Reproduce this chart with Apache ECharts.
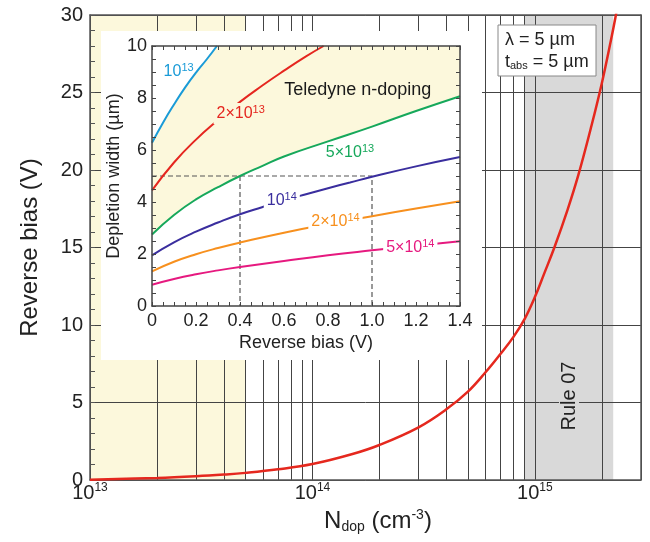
<!DOCTYPE html>
<html>
<head>
<meta charset="utf-8">
<script src="https://cdn.jsdelivr.net/npm/echarts@6/dist/echarts.min.js"></script>
<style>
  html, body { margin: 0; padding: 0; background: #fff; }
  #chart { width: 650px; height: 542px; }
</style>
</head>
<body>
<div id="chart"></div>
<script>
// main plot: reverse bias needed vs doping
var nDop = [1e13, 2e13, 3e13, 4e13, 5e13, 7e13, 1e14, 1.5e14, 2e14, 3e14, 4e14, 5e14, 6e14, 7e14, 8e14, 9e14, 1e15, 1.1e15, 1.22e15, 1.4e15, 1.57e15, 1.8e15, 2e15, 2.2e15, 2.3e15, 2.4e15];
var reverseBias = [0.02, 0.13, 0.24, 0.35, 0.46, 0.69, 1.03, 1.66, 2.26, 3.4, 4.56, 5.7, 6.95, 8.13, 9.22, 10.4, 11.8, 13.3, 14.95, 17.4, 19.7, 22.9, 25.6, 28.4, 29.8, 31.3];
var minorGrid = [2e13, 3e13, 4e13, 5e13, 6e13, 7e13, 8e13, 9e13, 2e14, 3e14, 4e14, 5e14, 6e14, 7e14, 8e14, 9e14, 2e15];
var tdBand = [1e13, 5e13];      // Teledyne n-doping
var ruleBand = [9e14, 2.25e15]; // Rule 07

// inset: depletion width vs reverse bias
var biasBlue = [0, 0.05, 0.1, 0.15, 0.2, 0.25, 0.295];
var wBlue = [6.28, 7.05, 7.75, 8.4, 8.98, 9.5, 10];
var biasRed = [0, 0.1, 0.2, 0.3, 0.4, 0.5, 0.6, 0.7, 0.78];
var wRed = [4.45, 5.52, 6.4, 7.15, 7.85, 8.47, 9.05, 9.6, 10];
var biasGreen = [0, 0.1, 0.2, 0.3, 0.4, 0.5, 0.6, 0.8, 1.0, 1.2, 1.4];
var wGreen = [2.75, 3.5, 4.1, 4.57, 5.0, 5.38, 5.75, 6.33, 6.9, 7.5, 8.07];
var biasPurple = [0, 0.1, 0.2, 0.3, 0.4, 0.5, 0.6, 0.7, 0.8, 0.9, 1.0, 1.2, 1.4];
var wPurple = [1.95, 2.45, 2.86, 3.21, 3.53, 3.8, 4.06, 4.3, 4.53, 4.75, 4.97, 5.37, 5.73];
var biasOrange = [0, 0.1, 0.2, 0.3, 0.4, 0.6, 0.8, 1.0, 1.2, 1.4];
var wOrange = [1.33, 1.7, 1.99, 2.23, 2.44, 2.82, 3.15, 3.45, 3.75, 4.03];
var biasPink = [0, 0.1, 0.2, 0.3, 0.4, 0.6, 0.8, 1.0, 1.2, 1.4];
var wPink = [0.82, 1.04, 1.22, 1.37, 1.5, 1.73, 1.95, 2.14, 2.32, 2.49];
var guideA = [[0, 5], [1.0, 5], [1.0, 0]];
var guideB = [[0.4, 5], [0.4, 0]];

var labelText = ['10{s|13}', '2×10{s|13}', '5×10{s|13}', '10{s|14}', '2×10{s|14}', '5×10{s|14}', 'Teledyne n-doping'];
var labelBias = [0.121, 0.403, 0.9, 0.59, 0.834, 1.174, 0.935];
var labelWidth = [9.02, 7.4, 5.89, 4.05, 3.24, 2.23, 8.3];

var FONT = '"Liberation Sans", Arial, sans-serif';
var colors = ['#1a9bd7', '#e5261f', '#16a85b', '#3a2e9e', '#f7901e', '#e6197f', '#1a1a1a'];
var labelBg = [null, '#fcf8dc', null, '#fff', '#fff', '#fff', null];
var yellow = '#fcf8dc';
var grey = '#d9d9d9';

function pairs(xs, ys) {
  return xs.map(function (x, i) { return [x, ys[i]]; });
}

function expLabel(v) {
  return '{b|10}{s|' + Math.round(Math.log10(v)) + '}';
}

var myChart = echarts.init(document.getElementById('chart'));

function insetLine(xs, ys, c) {
  return {
    type: 'line', xAxisIndex: 2, yAxisIndex: 2, zlevel: 1, z: 3,
    data: pairs(xs, ys), smooth: true, showSymbol: false, silent: true,
    lineStyle: { color: c, width: 2 }
  };
}

function guide(d) {
  return {
    type: 'line', xAxisIndex: 2, yAxisIndex: 2, zlevel: 1, z: 2,
    data: d, showSymbol: false, silent: true,
    lineStyle: { color: '#555', width: 1.2, type: [5, 3] }
  };
}

var insetTicks = { show: true, inside: true, length: 4, lineStyle: { color: '#444' } };
var insetMinor = { show: true, splitNumber: 4, length: 4, lineStyle: { color: '#444' } };
var insetLineStyle = { show: true, onZero: false, lineStyle: { color: '#444', width: 1.5 } };

myChart.setOption({
  animation: false,
  textStyle: { fontFamily: FONT },
  grid: [
    { left: 90, top: 15, width: 551, height: 465, outerBoundsMode: 'none' },
    { left: 152, top: 46, width: 308, height: 260, outerBoundsMode: 'none' }
  ],
  xAxis: [
    {
      type: 'log', logBase: 10, gridIndex: 0, min: 1e13, max: 3e15, position: 'bottom', z: 2,
      axisLine: { show: true, onZero: false, lineStyle: { color: '#555', width: 1.5 } },
      axisTick: { show: false },
      splitLine: { show: true, lineStyle: { color: '#444', width: 1 } },
      axisLabel: {
        margin: 2, showMaxLabel: false, formatter: expLabel,
        rich: {
          b: { fontSize: 20, color: '#222', fontFamily: FONT, lineHeight: 22 },
          s: { fontSize: 12, color: '#222', fontFamily: FONT, lineHeight: 12, verticalAlign: 'top' }
        }
      },
      name: '{b|N}{sub|dop}{b| (cm}{sup|-3}{b|)}',
      nameLocation: 'middle', nameGap: 17,
      nameTextStyle: {
        padding: [0, 0, 0, 25],
        rich: {
          b: { fontSize: 24, color: '#222', fontFamily: FONT, lineHeight: 26 },
          sub: { fontSize: 14, color: '#222', fontFamily: FONT, lineHeight: 14, verticalAlign: 'bottom' },
          sup: { fontSize: 14, color: '#222', fontFamily: FONT, lineHeight: 14, verticalAlign: 'top' }
        }
      }
    },
    {
      type: 'log', logBase: 10, gridIndex: 0, min: 1e13, max: 3e15, position: 'top', z: 2,
      axisLine: { show: true, onZero: false, lineStyle: { color: '#555', width: 1.5 } },
      axisTick: { show: false }, axisLabel: { show: false }, splitLine: { show: false }
    },
    {
      type: 'value', gridIndex: 1, min: 0, max: 1.4, interval: 0.2, position: 'bottom', zlevel: 1, z: 5,
      axisLine: insetLineStyle, axisTick: insetTicks, minorTick: insetMinor,
      splitLine: { show: false },
      axisLabel: {
        fontSize: 18, color: '#222', margin: 6,
        formatter: function (v) { return v === 0 ? '0' : v.toFixed(1); }
      },
      name: 'Reverse bias (V)', nameLocation: 'middle', nameGap: 28,
      nameTextStyle: { fontSize: 18, color: '#222' }
    },
    {
      type: 'value', gridIndex: 1, min: 0, max: 1.4, interval: 0.2, position: 'top', zlevel: 1, z: 5,
      axisLine: insetLineStyle, axisTick: insetTicks, minorTick: insetMinor,
      axisLabel: { show: false }, splitLine: { show: false }
    }
  ],
  yAxis: [
    {
      type: 'value', gridIndex: 0, min: 0, max: 30, interval: 5, position: 'left', z: 2,
      axisLine: { show: true, onZero: false, lineStyle: { color: '#555', width: 1.5 } },
      axisTick: { show: true, inside: true, length: 5, lineStyle: { color: '#555' } },
      minorTick: { show: true, splitNumber: 5, length: 5, lineStyle: { color: '#555' } },
      splitLine: { show: true, lineStyle: { color: '#444', width: 1 } },
      axisLabel: { fontSize: 20, color: '#222', margin: 7 },
      name: 'Reverse bias (V)', nameLocation: 'middle', nameGap: 48,
      nameTextStyle: { fontSize: 24, color: '#222' }
    },
    {
      type: 'value', gridIndex: 0, min: 0, max: 30, position: 'right', z: 2,
      axisLine: { show: true, onZero: false, lineStyle: { color: '#555', width: 1.5 } },
      axisTick: { show: false }, axisLabel: { show: false }, splitLine: { show: false }
    },
    {
      type: 'value', gridIndex: 1, min: 0, max: 10, interval: 2, position: 'left', zlevel: 1, z: 5,
      axisLine: insetLineStyle, axisTick: insetTicks, minorTick: insetMinor,
      splitLine: { show: false },
      axisLabel: { fontSize: 18, color: '#222', margin: 5 },
      name: 'Depletion width (µm)', nameLocation: 'middle', nameGap: 17,
      nameTextStyle: { fontSize: 18, color: '#222' }
    },
    {
      type: 'value', gridIndex: 1, min: 0, max: 10, interval: 2, position: 'right', zlevel: 1, z: 5,
      axisLine: insetLineStyle, axisTick: insetTicks, minorTick: insetMinor,
      axisLabel: { show: false }, splitLine: { show: false }
    }
  ],
  graphic: [
    // white backing of the inset
    { type: 'rect', zlevel: 1, z: 0, silent: true,
      shape: { x: 101, y: 31, width: 381, height: 329 }, style: { fill: '#fff' } },
    { type: 'rect', z: 10, silent: true,
      shape: { x: 498, y: 25, width: 98, height: 51 }, style: { fill: '#fff', stroke: '#888', lineWidth: 1 } },
    { type: 'text', z: 11, x: 505, y: 31, silent: true,
      style: { text: 'λ = 5 µm', font: '18px ' + FONT, fill: '#222' } },
    { type: 'text', z: 11, x: 505, y: 53, silent: true,
      style: {
        text: 't{s|abs} = 5 µm', font: '18px ' + FONT, fill: '#222',
        rich: { s: { fontSize: 11, fontFamily: FONT, verticalAlign: 'bottom', lineHeight: 11 } }
      } },
    { type: 'text', z: 11, x: 569, y: 396, rotation: Math.PI / 2, silent: true,
      style: {
        text: 'Rule 07', font: '20px ' + FONT, fill: '#222', align: 'center', verticalAlign: 'middle',
        backgroundColor: grey, padding: [0, 4]
      } }
  ],
  series: [
    {
      type: 'line', name: 'Reverse bias', xAxisIndex: 0, yAxisIndex: 0, z: 3,
      data: pairs(nDop, reverseBias), smooth: 0.4, showSymbol: false, silent: true,
      lineStyle: { color: '#e5281e', width: 2.5 },
      markArea: {
        silent: true, z: 1,
        data: [
          [{ xAxis: tdBand[0], itemStyle: { color: yellow } }, { xAxis: tdBand[1] }],
          [{ xAxis: ruleBand[0], itemStyle: { color: grey } }, { xAxis: ruleBand[1] }]
        ]
      },
      markLine: {
        silent: true, z: 2, symbol: ['none', 'none'], label: { show: false },
        lineStyle: { color: '#444', width: 1, type: 'solid' },
        data: minorGrid.map(function (v) { return { xAxis: v }; })
      }
    },
    {
      type: 'custom', xAxisIndex: 2, yAxisIndex: 2, zlevel: 1, z: 1, silent: true,
      data: [[0, 0]],
      renderItem: function (params, api) {
        var pts = pairs(biasBlue, wBlue).concat([[1.4, 10]]).concat(pairs(biasGreen, wGreen).reverse());
        return {
          type: 'polygon',
          shape: { points: pts.map(function (p) { return api.coord(p); }) },
          style: { fill: yellow }
        };
      }
    },
    guide(guideA),
    guide(guideB),
    insetLine(biasBlue, wBlue, colors[0]),
    insetLine(biasRed, wRed, colors[1]),
    insetLine(biasGreen, wGreen, colors[2]),
    insetLine(biasPurple, wPurple, colors[3]),
    insetLine(biasOrange, wOrange, colors[4]),
    insetLine(biasPink, wPink, colors[5]),
    {
      type: 'scatter', xAxisIndex: 2, yAxisIndex: 2, zlevel: 1, z: 4, silent: true,
      symbolSize: 1, itemStyle: { color: 'rgba(0,0,0,0)', opacity: 1 },
      data: labelText.map(function (t, i) {
        return {
          value: [labelBias[i], labelWidth[i]],
          label: {
            show: true, position: 'inside', formatter: t, color: colors[i],
            fontSize: i === 6 ? 18 : 16, lineHeight: 19,
            textBorderWidth: 0, textBorderColor: 'transparent',
            backgroundColor: labelBg[i] || 'transparent', padding: [1, 3]
          }
        };
      }),
      label: {
        show: true, fontFamily: FONT, textBorderWidth: 0,
        rich: { s: { fontSize: 11, fontFamily: FONT, verticalAlign: 'top', lineHeight: 11 } }
      }
    }
  ]
});
</script>
</body>
</html>
